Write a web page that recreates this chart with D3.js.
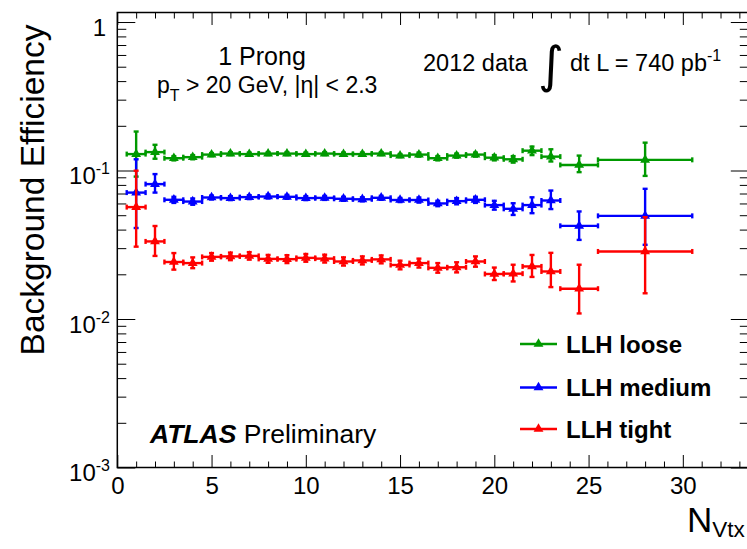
<!DOCTYPE html>
<html>
<head>
<meta charset="utf-8">
<script src="https://cdn.jsdelivr.net/npm/d3@7"></script>
<style>
  body { margin: 0; background: #fff; }
  svg { display: block; font-family: "Liberation Sans", Arial, Helvetica, sans-serif; }
</style>
</head>
<body>
<svg id="drawing_region"></svg>
<script>
// N_Vtx bins: centre and half width
const nvtx = [1, 2, 3, 4, 5, 6, 7, 8, 9, 10, 11, 12, 13, 14, 15, 16, 17, 18, 19, 20, 21, 22, 23, 24.5, 28];
const nvtxHalf = [0.5, 0.5, 0.5, 0.5, 0.5, 0.5, 0.5, 0.5, 0.5, 0.5, 0.5, 0.5, 0.5, 0.5, 0.5, 0.5, 0.5, 0.5, 0.5, 0.5, 0.5, 0.5, 0.5, 1, 2.5];

const looseEff = [0.129, 0.133, 0.121, 0.123, 0.128, 0.130, 0.129, 0.130, 0.130, 0.129, 0.130, 0.129, 0.129, 0.130, 0.126, 0.128, 0.121, 0.126, 0.128, 0.122, 0.119, 0.136, 0.124, 0.109, 0.118];
const looseErrUp = [0.054, 0.016, 0.004, 0.004, 0.003, 0.003, 0.003, 0.003, 0.003, 0.003, 0.003, 0.003, 0.003, 0.003, 0.003, 0.004, 0.004, 0.004, 0.004, 0.005, 0.006, 0.009, 0.015, 0.017, 0.036];
const looseErrDown = [0.038, 0.013, 0.004, 0.004, 0.003, 0.003, 0.003, 0.003, 0.003, 0.003, 0.003, 0.003, 0.003, 0.003, 0.003, 0.004, 0.004, 0.004, 0.004, 0.005, 0.006, 0.009, 0.009, 0.0115, 0.026];

const mediumEff = [0.071, 0.081, 0.0635, 0.0618, 0.0658, 0.0652, 0.0662, 0.0668, 0.0665, 0.0652, 0.0654, 0.0645, 0.064, 0.0655, 0.0633, 0.0633, 0.060, 0.0622, 0.0635, 0.0585, 0.0552, 0.0585, 0.0628, 0.0424, 0.0495];
const mediumErrUp = [0.048, 0.0136, 0.003, 0.003, 0.002, 0.002, 0.002, 0.002, 0.002, 0.002, 0.002, 0.002, 0.002, 0.002, 0.002, 0.0025, 0.0025, 0.003, 0.003, 0.004, 0.005, 0.0075, 0.0105, 0.0106, 0.0258];
const mediumErrDown = [0.030, 0.010, 0.003, 0.003, 0.002, 0.002, 0.002, 0.002, 0.002, 0.002, 0.002, 0.002, 0.002, 0.002, 0.002, 0.0025, 0.0025, 0.003, 0.003, 0.004, 0.005, 0.0069, 0.0078, 0.0083, 0.0179];

const tightEff = [0.0567, 0.0333, 0.0242, 0.0238, 0.0262, 0.0264, 0.0266, 0.0254, 0.0253, 0.0258, 0.0255, 0.0244, 0.0248, 0.0252, 0.0231, 0.0238, 0.0221, 0.0223, 0.0244, 0.0201, 0.0202, 0.0226, 0.0209, 0.016, 0.0285];
const tightErrUp = [0.043, 0.009, 0.0036, 0.0022, 0.0016, 0.0016, 0.0016, 0.0016, 0.0016, 0.0016, 0.0016, 0.0016, 0.0016, 0.0016, 0.0016, 0.0017, 0.0017, 0.0018, 0.002, 0.0021, 0.003, 0.0044, 0.007, 0.0072, 0.020];
const tightErrDown = [0.026, 0.0067, 0.0027, 0.0018, 0.0015, 0.0015, 0.0015, 0.0015, 0.0015, 0.0015, 0.0015, 0.0015, 0.0015, 0.0015, 0.0015, 0.0016, 0.0016, 0.0017, 0.0019, 0.0018, 0.0023, 0.0034, 0.0045, 0.0051, 0.0136];

const seriesNames = ["LLH loose", "LLH medium", "LLH tight"];
const seriesColors = ["#009900", "#0000ff", "#ff0000"];

const xMajorTicks = [0, 5, 10, 15, 20, 25, 30];
const yMajorTicks = [1, 0.1, 0.01, 0.001];
const yTickExponents = [null, "-1", "-2", "-3"];

const series = [
    { name: seriesNames[0], color: seriesColors[0], eff: looseEff, up: looseErrUp, down: looseErrDown },
    { name: seriesNames[1], color: seriesColors[1], eff: mediumEff, up: mediumErrUp, down: mediumErrDown },
    { name: seriesNames[2], color: seriesColors[2], eff: tightEff, up: tightErrUp, down: tightErrDown }
];

const config = {
    width: 747,
    height: 549,
    left: 117.3, top: 12.5, right: 748.8, bottom: 467.5
};

const svg = d3.select('#drawing_region')
    .attr('width', config.width)
    .attr('height', config.height);

const xscale = d3.scaleLinear()
    .domain([0, 33.5])
    .range([config.left, config.right]);

const yscale = d3.scaleLog()
    .domain([0.001, 1.159])
    .range([config.bottom, config.top]);

// minor tick positions
const xMinorTicks = d3.range(0, 34, 1).filter(v => v % 5 !== 0);
const yMinorTicks = [];
[0.001, 0.01, 0.1].forEach(dec => { for (let m = 2; m <= 9; m++) yMinorTicks.push(dec * m); });

// axes (ticks drawn inward like ROOT)
function tickAxis(axis, values, size, translate) {
    const g = svg.append('g')
        .attr('transform', translate)
        .call(axis.tickValues(values).tickSize(size).tickSizeOuter(0).tickFormat(''));
    g.select('.domain').remove();
    g.selectAll('line').attr('stroke', '#000').attr('stroke-width', 1);
    return g;
}

tickAxis(d3.axisBottom(xscale), xMinorTicks, -6, `translate(0,${config.bottom})`);
tickAxis(d3.axisTop(xscale), xMinorTicks, -6, `translate(0,${config.top})`);
tickAxis(d3.axisTop(xscale), xMajorTicks, -12.5, `translate(0,${config.top})`);
tickAxis(d3.axisLeft(yscale), yMinorTicks, -9, `translate(${config.left},0)`);
tickAxis(d3.axisLeft(yscale), yMajorTicks, -18, `translate(${config.left},0)`);
tickAxis(d3.axisRight(yscale), yMinorTicks, -9, `translate(${config.right},0)`);
tickAxis(d3.axisRight(yscale), yMajorTicks, -18, `translate(${config.right},0)`);

const xaxis_group = svg.append('g')
    .attr('transform', `translate(0,${config.bottom})`)
    .call(d3.axisBottom(xscale).tickValues(xMajorTicks).tickSize(-12.5).tickSizeOuter(0).tickPadding(9));
xaxis_group.select('.domain').remove();
xaxis_group.selectAll('line').attr('stroke', '#000');
xaxis_group.selectAll('text')
    .attr('fill', '#000')
    .style('font-size', '24px')
    .style('font-family', '"Liberation Sans", Arial, sans-serif');

// y labels with superscripted exponents
const ylabel_group = svg.append('g');
yMajorTicks.forEach((v, i) => {
    const t = ylabel_group.append('text')
        .attr('x', 110)
        .attr('y', yscale(v) + 13.5)
        .attr('text-anchor', 'end')
        .style('font-size', '24px');
    if (yTickExponents[i] === null) {
        t.attr('x', 106).text('1');
    } else {
        t.append('tspan').text('10');
        t.append('tspan').attr('dy', -10).style('font-size', '16px').text(yTickExponents[i]);
    }
});

// frame
svg.append('rect')
    .attr('x', config.left).attr('y', config.top)
    .attr('width', config.right - config.left)
    .attr('height', config.bottom - config.top)
    .attr('fill', 'none').attr('stroke', '#000').attr('stroke-width', 1.5);

// data: error bars + triangles
const triangle = d3.symbol().type(d3.symbolTriangle).size(42);
const cap = 2.5;

series.forEach(s => {
    const g = svg.append('g')
        .attr('stroke', s.color).attr('fill', s.color).attr('stroke-width', 2.4);
    nvtx.forEach((c, i) => {
        const cx = xscale(c), cy = yscale(s.eff[i]);
        const x0 = xscale(c - nvtxHalf[i]), x1 = xscale(c + nvtxHalf[i]);
        const y0 = yscale(s.eff[i] - s.down[i]), y1 = yscale(s.eff[i] + s.up[i]);
        g.append('line').attr('x1', x0).attr('x2', x1).attr('y1', cy).attr('y2', cy);
        g.append('line').attr('x1', cx).attr('x2', cx).attr('y1', y0).attr('y2', y1);
        g.append('line').attr('x1', x0).attr('x2', x0).attr('y1', cy - cap).attr('y2', cy + cap);
        g.append('line').attr('x1', x1).attr('x2', x1).attr('y1', cy - cap).attr('y2', cy + cap);
        g.append('line').attr('x1', cx - cap).attr('x2', cx + cap).attr('y1', y0).attr('y2', y0);
        g.append('line').attr('x1', cx - cap).attr('x2', cx + cap).attr('y1', y1).attr('y2', y1);
        g.append('path').attr('d', triangle).attr('stroke', 'none')
            .attr('transform', `translate(${cx},${cy})`);
    });
});

// legend
const legendY = [344, 387.5, 429];
series.forEach((s, i) => {
    const g = svg.append('g').attr('transform', `translate(520,${legendY[i]})`);
    g.append('line').attr('x1', 0).attr('x2', 37).attr('stroke', s.color).attr('stroke-width', 2.4);
    g.append('path').attr('d', triangle).attr('fill', s.color).attr('transform', 'translate(18.5,0)');
    g.append('text').attr('x', 46).attr('y', 8.8)
        .style('font-size', '24px').style('font-weight', 'bold')
        .text(s.name);
});

// annotations
svg.append('text')
    .attr('x', 262).attr('y', 65).attr('text-anchor', 'middle')
    .style('font-size', '25px').text('1 Prong');

const pt = svg.append('text').attr('x', 157).attr('y', 93).style('font-size', '23px');
pt.append('tspan').text('p');
pt.append('tspan').attr('dy', 8).style('font-size', '16px').text('T');
pt.append('tspan').attr('dy', -8).text(' > 20 GeV, |η| < 2.3');

svg.append('text').attr('x', 423).attr('y', 71).style('font-size', '23.5px').text('2012 data');
svg.append('text').attr('x', 538).attr('y', 82)
    .style('font-family', '"DejaVu Sans", sans-serif').style('font-size', '50px').text('∫');
const lumi = svg.append('text').attr('x', 570).attr('y', 71).style('font-size', '23.5px');
lumi.append('tspan').text('dt L = 740 pb');
lumi.append('tspan').attr('dy', -10).style('font-size', '16px').text('-1');

const atlas = svg.append('text').attr('x', 150).attr('y', 443).style('font-size', '26.5px');
atlas.append('tspan').style('font-weight', 'bold').style('font-style', 'italic').text('ATLAS');
atlas.append('tspan').text(' Preliminary');

// axis titles
svg.append('text')
    .attr('transform', 'translate(44,190) rotate(-90)')
    .attr('text-anchor', 'middle')
    .style('font-size', '33.5px')
    .text('Background Efficiency');

const xt = svg.append('text').attr('x', 687).attr('y', 532).style('font-size', '35px');
xt.append('tspan').text('N');
xt.append('tspan').attr('dy', 5).style('font-size', '22.5px').text('Vtx');
</script>
</body>
</html>
